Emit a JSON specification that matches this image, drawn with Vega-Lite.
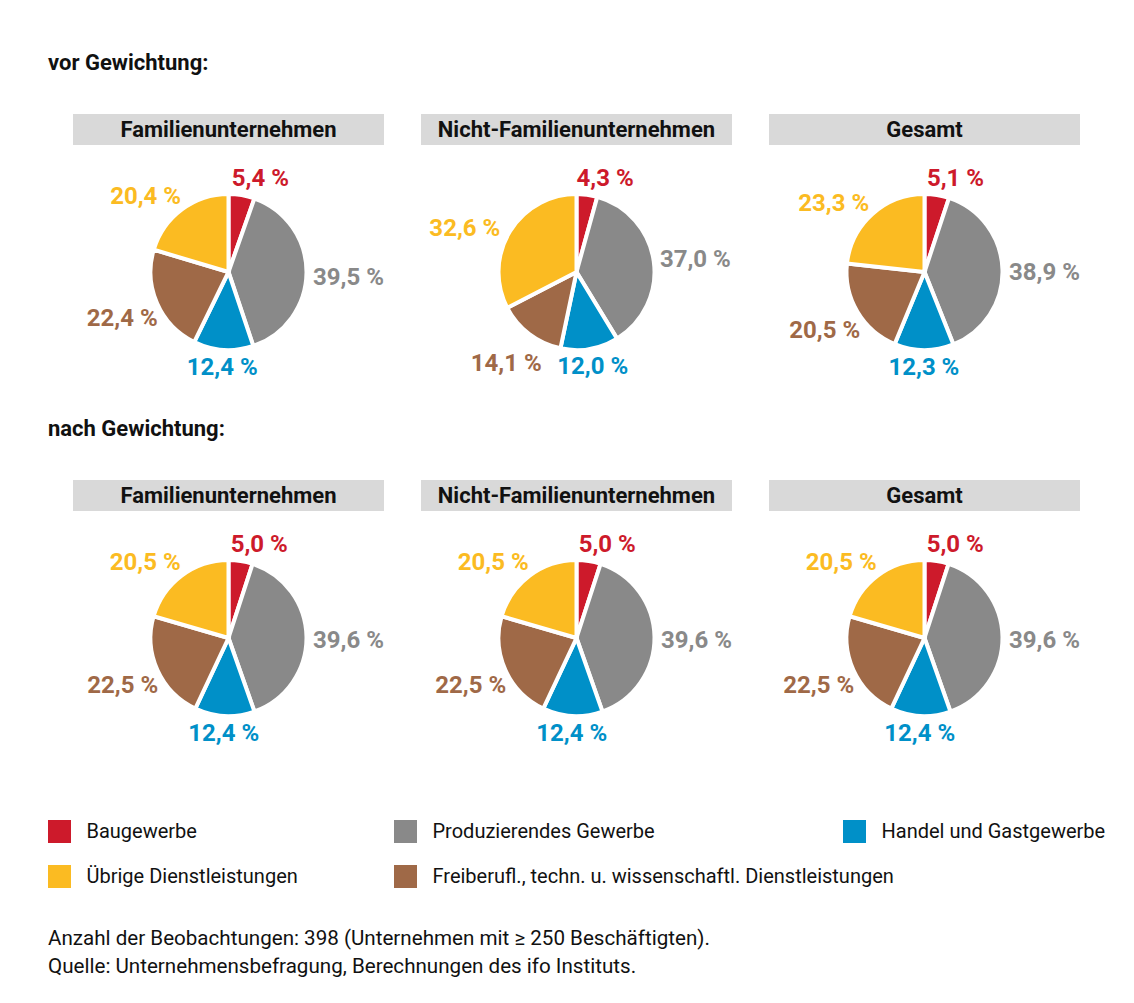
{
 "$schema": "https://vega.github.io/schema/vega-lite/v6.json",
 "padding": {"left": 47, "top": 52, "right": 0, "bottom": 0},
 "config": {
  "view": {"stroke": null},
  "font": "Roboto",
  "locale": {"number": {"decimal": ",", "thousands": ".", "grouping": [3], "currency": ["", " %"]}},
  "title": {"font": "Roboto", "color": "#111111"}
 },
 "datasets": {
  "kategorien": [
   {"Kategorie": "Baugewerbe", "Nr": 1},
   {"Kategorie": "Produzierendes Gewerbe", "Nr": 2},
   {"Kategorie": "Handel und Gastgewerbe", "Nr": 3},
   {"Kategorie": "Freiberufl., techn. u. wissenschaftl. Dienstleistungen", "Nr": 4},
   {"Kategorie": "Übrige Dienstleistungen", "Nr": 5}
  ],
  "anteile": [
   {"Gewichtung": "vor", "Gruppe": "Familienunternehmen", "Nr": 1, "Kategorie": "Baugewerbe", "Anteil": 5.4},
   {"Gewichtung": "vor", "Gruppe": "Familienunternehmen", "Nr": 2, "Kategorie": "Produzierendes Gewerbe", "Anteil": 39.5},
   {"Gewichtung": "vor", "Gruppe": "Familienunternehmen", "Nr": 3, "Kategorie": "Handel und Gastgewerbe", "Anteil": 12.4},
   {"Gewichtung": "vor", "Gruppe": "Familienunternehmen", "Nr": 4, "Kategorie": "Freiberufl., techn. u. wissenschaftl. Dienstleistungen", "Anteil": 22.4},
   {"Gewichtung": "vor", "Gruppe": "Familienunternehmen", "Nr": 5, "Kategorie": "Übrige Dienstleistungen", "Anteil": 20.4},
   {"Gewichtung": "vor", "Gruppe": "Nicht-Familienunternehmen", "Nr": 1, "Kategorie": "Baugewerbe", "Anteil": 4.3},
   {"Gewichtung": "vor", "Gruppe": "Nicht-Familienunternehmen", "Nr": 2, "Kategorie": "Produzierendes Gewerbe", "Anteil": 37.0},
   {"Gewichtung": "vor", "Gruppe": "Nicht-Familienunternehmen", "Nr": 3, "Kategorie": "Handel und Gastgewerbe", "Anteil": 12.0},
   {"Gewichtung": "vor", "Gruppe": "Nicht-Familienunternehmen", "Nr": 4, "Kategorie": "Freiberufl., techn. u. wissenschaftl. Dienstleistungen", "Anteil": 14.1},
   {"Gewichtung": "vor", "Gruppe": "Nicht-Familienunternehmen", "Nr": 5, "Kategorie": "Übrige Dienstleistungen", "Anteil": 32.6},
   {"Gewichtung": "vor", "Gruppe": "Gesamt", "Nr": 1, "Kategorie": "Baugewerbe", "Anteil": 5.1},
   {"Gewichtung": "vor", "Gruppe": "Gesamt", "Nr": 2, "Kategorie": "Produzierendes Gewerbe", "Anteil": 38.9},
   {"Gewichtung": "vor", "Gruppe": "Gesamt", "Nr": 3, "Kategorie": "Handel und Gastgewerbe", "Anteil": 12.3},
   {"Gewichtung": "vor", "Gruppe": "Gesamt", "Nr": 4, "Kategorie": "Freiberufl., techn. u. wissenschaftl. Dienstleistungen", "Anteil": 20.5},
   {"Gewichtung": "vor", "Gruppe": "Gesamt", "Nr": 5, "Kategorie": "Übrige Dienstleistungen", "Anteil": 23.3},
   {"Gewichtung": "nach", "Gruppe": "Familienunternehmen", "Nr": 1, "Kategorie": "Baugewerbe", "Anteil": 5.0},
   {"Gewichtung": "nach", "Gruppe": "Familienunternehmen", "Nr": 2, "Kategorie": "Produzierendes Gewerbe", "Anteil": 39.6},
   {"Gewichtung": "nach", "Gruppe": "Familienunternehmen", "Nr": 3, "Kategorie": "Handel und Gastgewerbe", "Anteil": 12.4},
   {"Gewichtung": "nach", "Gruppe": "Familienunternehmen", "Nr": 4, "Kategorie": "Freiberufl., techn. u. wissenschaftl. Dienstleistungen", "Anteil": 22.5},
   {"Gewichtung": "nach", "Gruppe": "Familienunternehmen", "Nr": 5, "Kategorie": "Übrige Dienstleistungen", "Anteil": 20.5},
   {"Gewichtung": "nach", "Gruppe": "Nicht-Familienunternehmen", "Nr": 1, "Kategorie": "Baugewerbe", "Anteil": 5.0},
   {"Gewichtung": "nach", "Gruppe": "Nicht-Familienunternehmen", "Nr": 2, "Kategorie": "Produzierendes Gewerbe", "Anteil": 39.6},
   {"Gewichtung": "nach", "Gruppe": "Nicht-Familienunternehmen", "Nr": 3, "Kategorie": "Handel und Gastgewerbe", "Anteil": 12.4},
   {"Gewichtung": "nach", "Gruppe": "Nicht-Familienunternehmen", "Nr": 4, "Kategorie": "Freiberufl., techn. u. wissenschaftl. Dienstleistungen", "Anteil": 22.5},
   {"Gewichtung": "nach", "Gruppe": "Nicht-Familienunternehmen", "Nr": 5, "Kategorie": "Übrige Dienstleistungen", "Anteil": 20.5},
   {"Gewichtung": "nach", "Gruppe": "Gesamt", "Nr": 1, "Kategorie": "Baugewerbe", "Anteil": 5.0},
   {"Gewichtung": "nach", "Gruppe": "Gesamt", "Nr": 2, "Kategorie": "Produzierendes Gewerbe", "Anteil": 39.6},
   {"Gewichtung": "nach", "Gruppe": "Gesamt", "Nr": 3, "Kategorie": "Handel und Gastgewerbe", "Anteil": 12.4},
   {"Gewichtung": "nach", "Gruppe": "Gesamt", "Nr": 4, "Kategorie": "Freiberufl., techn. u. wissenschaftl. Dienstleistungen", "Anteil": 22.5},
   {"Gewichtung": "nach", "Gruppe": "Gesamt", "Nr": 5, "Kategorie": "Übrige Dienstleistungen", "Anteil": 20.5}
  ]
 },
 "title": {
  "text": ["Anzahl der Beobachtungen: 398 (Unternehmen mit ≥ 250 Beschäftigten).", "Quelle: Unternehmensbefragung, Berechnungen des ifo Instituts."],
  "orient": "bottom", "anchor": "start", "fontSize": 20.6, "fontWeight": "normal", "lineHeight": 28, "offset": 30
 },
 "spacing": 32,
 "vconcat": [
  {
   "spacing": 7,
   "vconcat": [
    {
     "title": {"text": "vor Gewichtung:", "anchor": "start", "fontSize": 22, "fontWeight": "bold", "offset": 39},
     "spacing": 24,
     "hconcat": [
      {"width": 1, "height": 1, "data": {"name": "kategorien"}, "mark": {"type": "point", "opacity": 0, "size": 0}, "encoding": {}},
      {
       "spacing": 37,
       "hconcat": [
        {"spacing": 0, "vconcat": [
         {"width": 311, "height": 31, "data": {"name": "anteile"},
          "transform": [{"filter": "datum.Gewichtung === 'vor' && datum.Gruppe === 'Familienunternehmen' && datum.Nr === 1"}],
          "layer": [
           {"mark": {"type": "rect", "color": "#d9d9d9"}, "encoding": {}},
           {"mark": {"type": "text", "fontSize": 22, "fontWeight": "bold", "color": "#111111"}, "encoding": {"text": {"field": "Gruppe", "type": "nominal"}}}
          ]},
         {"width": 311, "height": 254, "data": {"name": "anteile"},
          "transform": [{"filter": "datum.Gewichtung === 'vor' && datum.Gruppe === 'Familienunternehmen'"}],
          "encoding": {
           "theta": {"field": "Anteil", "type": "quantitative", "stack": true},
           "order": {"field": "Nr", "type": "quantitative"},
           "color": {"field": "Kategorie", "type": "nominal", "legend": null, "scale": {"domain": ["Baugewerbe", "Produzierendes Gewerbe", "Handel und Gastgewerbe", "Freiberufl., techn. u. wissenschaftl. Dienstleistungen", "Übrige Dienstleistungen"], "range": ["#cd1a2b", "#898989", "#0090c8", "#9f6947", "#fbbb22"]}}
          },
          "layer": [
           {"mark": {"type": "arc", "outerRadius": 78, "stroke": "white", "strokeWidth": 4}},
           {"mark": {"type": "text", "radius": 94, "dx": 16, "fontSize": 24, "fontWeight": "bold"}, "encoding": {"text": {"condition": {"test": "datum.Nr === 1", "field": "Anteil", "type": "quantitative", "format": "$.1f"}, "value": ""}}},
           {"mark": {"type": "text", "radius": 120, "dy": 5, "fontSize": 24, "fontWeight": "bold"}, "encoding": {"text": {"condition": {"test": "datum.Nr === 2", "field": "Anteil", "type": "quantitative", "format": "$.1f"}, "value": ""}}},
           {"mark": {"type": "text", "radius": 96, "fontSize": 24, "fontWeight": "bold"}, "encoding": {"text": {"condition": {"test": "datum.Nr === 3", "field": "Anteil", "type": "quantitative", "format": "$.1f"}, "value": ""}}},
           {"mark": {"type": "text", "radius": 116, "fontSize": 24, "fontWeight": "bold"}, "encoding": {"text": {"condition": {"test": "datum.Nr === 4", "field": "Anteil", "type": "quantitative", "format": "$.1f"}, "value": ""}}},
           {"mark": {"type": "text", "radius": 112, "dx": -16, "dy": 15, "fontSize": 24, "fontWeight": "bold"}, "encoding": {"text": {"condition": {"test": "datum.Nr === 5", "field": "Anteil", "type": "quantitative", "format": "$.1f"}, "value": ""}}}
          ]}
        ]},
        {"spacing": 0, "vconcat": [
         {"width": 311, "height": 31, "data": {"name": "anteile"},
          "transform": [{"filter": "datum.Gewichtung === 'vor' && datum.Gruppe === 'Nicht-Familienunternehmen' && datum.Nr === 1"}],
          "layer": [
           {"mark": {"type": "rect", "color": "#d9d9d9"}, "encoding": {}},
           {"mark": {"type": "text", "fontSize": 22, "fontWeight": "bold", "color": "#111111"}, "encoding": {"text": {"field": "Gruppe", "type": "nominal"}}}
          ]},
         {"width": 311, "height": 254, "data": {"name": "anteile"},
          "transform": [{"filter": "datum.Gewichtung === 'vor' && datum.Gruppe === 'Nicht-Familienunternehmen'"}],
          "encoding": {
           "theta": {"field": "Anteil", "type": "quantitative", "stack": true},
           "order": {"field": "Nr", "type": "quantitative"},
           "color": {"field": "Kategorie", "type": "nominal", "legend": null, "scale": {"domain": ["Baugewerbe", "Produzierendes Gewerbe", "Handel und Gastgewerbe", "Freiberufl., techn. u. wissenschaftl. Dienstleistungen", "Übrige Dienstleistungen"], "range": ["#cd1a2b", "#898989", "#0090c8", "#9f6947", "#fbbb22"]}}
          },
          "layer": [
           {"mark": {"type": "arc", "outerRadius": 78, "stroke": "white", "strokeWidth": 4}},
           {"mark": {"type": "text", "radius": 94, "dx": 16, "fontSize": 24, "fontWeight": "bold"}, "encoding": {"text": {"condition": {"test": "datum.Nr === 1", "field": "Anteil", "type": "quantitative", "format": "$.1f"}, "value": ""}}},
           {"mark": {"type": "text", "radius": 120, "dy": 5, "fontSize": 24, "fontWeight": "bold"}, "encoding": {"text": {"condition": {"test": "datum.Nr === 2", "field": "Anteil", "type": "quantitative", "format": "$.1f"}, "value": ""}}},
           {"mark": {"type": "text", "radius": 96, "fontSize": 24, "fontWeight": "bold"}, "encoding": {"text": {"condition": {"test": "datum.Nr === 3", "field": "Anteil", "type": "quantitative", "format": "$.1f"}, "value": ""}}},
           {"mark": {"type": "text", "radius": 116, "fontSize": 24, "fontWeight": "bold"}, "encoding": {"text": {"condition": {"test": "datum.Nr === 4", "field": "Anteil", "type": "quantitative", "format": "$.1f"}, "value": ""}}},
           {"mark": {"type": "text", "radius": 112, "dx": -16, "dy": 15, "fontSize": 24, "fontWeight": "bold"}, "encoding": {"text": {"condition": {"test": "datum.Nr === 5", "field": "Anteil", "type": "quantitative", "format": "$.1f"}, "value": ""}}}
          ]}
        ]},
        {"spacing": 0, "vconcat": [
         {"width": 311, "height": 31, "data": {"name": "anteile"},
          "transform": [{"filter": "datum.Gewichtung === 'vor' && datum.Gruppe === 'Gesamt' && datum.Nr === 1"}],
          "layer": [
           {"mark": {"type": "rect", "color": "#d9d9d9"}, "encoding": {}},
           {"mark": {"type": "text", "fontSize": 22, "fontWeight": "bold", "color": "#111111"}, "encoding": {"text": {"field": "Gruppe", "type": "nominal"}}}
          ]},
         {"width": 311, "height": 254, "data": {"name": "anteile"},
          "transform": [{"filter": "datum.Gewichtung === 'vor' && datum.Gruppe === 'Gesamt'"}],
          "encoding": {
           "theta": {"field": "Anteil", "type": "quantitative", "stack": true},
           "order": {"field": "Nr", "type": "quantitative"},
           "color": {"field": "Kategorie", "type": "nominal", "legend": null, "scale": {"domain": ["Baugewerbe", "Produzierendes Gewerbe", "Handel und Gastgewerbe", "Freiberufl., techn. u. wissenschaftl. Dienstleistungen", "Übrige Dienstleistungen"], "range": ["#cd1a2b", "#898989", "#0090c8", "#9f6947", "#fbbb22"]}}
          },
          "layer": [
           {"mark": {"type": "arc", "outerRadius": 78, "stroke": "white", "strokeWidth": 4}},
           {"mark": {"type": "text", "radius": 94, "dx": 16, "fontSize": 24, "fontWeight": "bold"}, "encoding": {"text": {"condition": {"test": "datum.Nr === 1", "field": "Anteil", "type": "quantitative", "format": "$.1f"}, "value": ""}}},
           {"mark": {"type": "text", "radius": 120, "dy": 5, "fontSize": 24, "fontWeight": "bold"}, "encoding": {"text": {"condition": {"test": "datum.Nr === 2", "field": "Anteil", "type": "quantitative", "format": "$.1f"}, "value": ""}}},
           {"mark": {"type": "text", "radius": 96, "fontSize": 24, "fontWeight": "bold"}, "encoding": {"text": {"condition": {"test": "datum.Nr === 3", "field": "Anteil", "type": "quantitative", "format": "$.1f"}, "value": ""}}},
           {"mark": {"type": "text", "radius": 116, "fontSize": 24, "fontWeight": "bold"}, "encoding": {"text": {"condition": {"test": "datum.Nr === 4", "field": "Anteil", "type": "quantitative", "format": "$.1f"}, "value": ""}}},
           {"mark": {"type": "text", "radius": 112, "dx": -16, "dy": 15, "fontSize": 24, "fontWeight": "bold"}, "encoding": {"text": {"condition": {"test": "datum.Nr === 5", "field": "Anteil", "type": "quantitative", "format": "$.1f"}, "value": ""}}}
          ]}
        ]}
       ]
      }
     ]
    },
    {
     "title": {"text": "nach Gewichtung:", "anchor": "start", "fontSize": 22, "fontWeight": "bold", "offset": 39},
     "spacing": 24,
     "hconcat": [
      {"width": 1, "height": 1, "data": {"name": "kategorien"}, "mark": {"type": "point", "opacity": 0, "size": 0}, "encoding": {}},
      {
       "spacing": 37,
       "hconcat": [
        {"spacing": 0, "vconcat": [
         {"width": 311, "height": 31, "data": {"name": "anteile"},
          "transform": [{"filter": "datum.Gewichtung === 'nach' && datum.Gruppe === 'Familienunternehmen' && datum.Nr === 1"}],
          "layer": [
           {"mark": {"type": "rect", "color": "#d9d9d9"}, "encoding": {}},
           {"mark": {"type": "text", "fontSize": 22, "fontWeight": "bold", "color": "#111111"}, "encoding": {"text": {"field": "Gruppe", "type": "nominal"}}}
          ]},
         {"width": 311, "height": 254, "data": {"name": "anteile"},
          "transform": [{"filter": "datum.Gewichtung === 'nach' && datum.Gruppe === 'Familienunternehmen'"}],
          "encoding": {
           "theta": {"field": "Anteil", "type": "quantitative", "stack": true},
           "order": {"field": "Nr", "type": "quantitative"},
           "color": {"field": "Kategorie", "type": "nominal", "legend": null, "scale": {"domain": ["Baugewerbe", "Produzierendes Gewerbe", "Handel und Gastgewerbe", "Freiberufl., techn. u. wissenschaftl. Dienstleistungen", "Übrige Dienstleistungen"], "range": ["#cd1a2b", "#898989", "#0090c8", "#9f6947", "#fbbb22"]}}
          },
          "layer": [
           {"mark": {"type": "arc", "outerRadius": 78, "stroke": "white", "strokeWidth": 4}},
           {"mark": {"type": "text", "radius": 94, "dx": 16, "fontSize": 24, "fontWeight": "bold"}, "encoding": {"text": {"condition": {"test": "datum.Nr === 1", "field": "Anteil", "type": "quantitative", "format": "$.1f"}, "value": ""}}},
           {"mark": {"type": "text", "radius": 120, "dy": 5, "fontSize": 24, "fontWeight": "bold"}, "encoding": {"text": {"condition": {"test": "datum.Nr === 2", "field": "Anteil", "type": "quantitative", "format": "$.1f"}, "value": ""}}},
           {"mark": {"type": "text", "radius": 96, "fontSize": 24, "fontWeight": "bold"}, "encoding": {"text": {"condition": {"test": "datum.Nr === 3", "field": "Anteil", "type": "quantitative", "format": "$.1f"}, "value": ""}}},
           {"mark": {"type": "text", "radius": 116, "fontSize": 24, "fontWeight": "bold"}, "encoding": {"text": {"condition": {"test": "datum.Nr === 4", "field": "Anteil", "type": "quantitative", "format": "$.1f"}, "value": ""}}},
           {"mark": {"type": "text", "radius": 112, "dx": -16, "dy": 15, "fontSize": 24, "fontWeight": "bold"}, "encoding": {"text": {"condition": {"test": "datum.Nr === 5", "field": "Anteil", "type": "quantitative", "format": "$.1f"}, "value": ""}}}
          ]}
        ]},
        {"spacing": 0, "vconcat": [
         {"width": 311, "height": 31, "data": {"name": "anteile"},
          "transform": [{"filter": "datum.Gewichtung === 'nach' && datum.Gruppe === 'Nicht-Familienunternehmen' && datum.Nr === 1"}],
          "layer": [
           {"mark": {"type": "rect", "color": "#d9d9d9"}, "encoding": {}},
           {"mark": {"type": "text", "fontSize": 22, "fontWeight": "bold", "color": "#111111"}, "encoding": {"text": {"field": "Gruppe", "type": "nominal"}}}
          ]},
         {"width": 311, "height": 254, "data": {"name": "anteile"},
          "transform": [{"filter": "datum.Gewichtung === 'nach' && datum.Gruppe === 'Nicht-Familienunternehmen'"}],
          "encoding": {
           "theta": {"field": "Anteil", "type": "quantitative", "stack": true},
           "order": {"field": "Nr", "type": "quantitative"},
           "color": {"field": "Kategorie", "type": "nominal", "legend": null, "scale": {"domain": ["Baugewerbe", "Produzierendes Gewerbe", "Handel und Gastgewerbe", "Freiberufl., techn. u. wissenschaftl. Dienstleistungen", "Übrige Dienstleistungen"], "range": ["#cd1a2b", "#898989", "#0090c8", "#9f6947", "#fbbb22"]}}
          },
          "layer": [
           {"mark": {"type": "arc", "outerRadius": 78, "stroke": "white", "strokeWidth": 4}},
           {"mark": {"type": "text", "radius": 94, "dx": 16, "fontSize": 24, "fontWeight": "bold"}, "encoding": {"text": {"condition": {"test": "datum.Nr === 1", "field": "Anteil", "type": "quantitative", "format": "$.1f"}, "value": ""}}},
           {"mark": {"type": "text", "radius": 120, "dy": 5, "fontSize": 24, "fontWeight": "bold"}, "encoding": {"text": {"condition": {"test": "datum.Nr === 2", "field": "Anteil", "type": "quantitative", "format": "$.1f"}, "value": ""}}},
           {"mark": {"type": "text", "radius": 96, "fontSize": 24, "fontWeight": "bold"}, "encoding": {"text": {"condition": {"test": "datum.Nr === 3", "field": "Anteil", "type": "quantitative", "format": "$.1f"}, "value": ""}}},
           {"mark": {"type": "text", "radius": 116, "fontSize": 24, "fontWeight": "bold"}, "encoding": {"text": {"condition": {"test": "datum.Nr === 4", "field": "Anteil", "type": "quantitative", "format": "$.1f"}, "value": ""}}},
           {"mark": {"type": "text", "radius": 112, "dx": -16, "dy": 15, "fontSize": 24, "fontWeight": "bold"}, "encoding": {"text": {"condition": {"test": "datum.Nr === 5", "field": "Anteil", "type": "quantitative", "format": "$.1f"}, "value": ""}}}
          ]}
        ]},
        {"spacing": 0, "vconcat": [
         {"width": 311, "height": 31, "data": {"name": "anteile"},
          "transform": [{"filter": "datum.Gewichtung === 'nach' && datum.Gruppe === 'Gesamt' && datum.Nr === 1"}],
          "layer": [
           {"mark": {"type": "rect", "color": "#d9d9d9"}, "encoding": {}},
           {"mark": {"type": "text", "fontSize": 22, "fontWeight": "bold", "color": "#111111"}, "encoding": {"text": {"field": "Gruppe", "type": "nominal"}}}
          ]},
         {"width": 311, "height": 254, "data": {"name": "anteile"},
          "transform": [{"filter": "datum.Gewichtung === 'nach' && datum.Gruppe === 'Gesamt'"}],
          "encoding": {
           "theta": {"field": "Anteil", "type": "quantitative", "stack": true},
           "order": {"field": "Nr", "type": "quantitative"},
           "color": {"field": "Kategorie", "type": "nominal", "legend": null, "scale": {"domain": ["Baugewerbe", "Produzierendes Gewerbe", "Handel und Gastgewerbe", "Freiberufl., techn. u. wissenschaftl. Dienstleistungen", "Übrige Dienstleistungen"], "range": ["#cd1a2b", "#898989", "#0090c8", "#9f6947", "#fbbb22"]}}
          },
          "layer": [
           {"mark": {"type": "arc", "outerRadius": 78, "stroke": "white", "strokeWidth": 4}},
           {"mark": {"type": "text", "radius": 94, "dx": 16, "fontSize": 24, "fontWeight": "bold"}, "encoding": {"text": {"condition": {"test": "datum.Nr === 1", "field": "Anteil", "type": "quantitative", "format": "$.1f"}, "value": ""}}},
           {"mark": {"type": "text", "radius": 120, "dy": 5, "fontSize": 24, "fontWeight": "bold"}, "encoding": {"text": {"condition": {"test": "datum.Nr === 2", "field": "Anteil", "type": "quantitative", "format": "$.1f"}, "value": ""}}},
           {"mark": {"type": "text", "radius": 96, "fontSize": 24, "fontWeight": "bold"}, "encoding": {"text": {"condition": {"test": "datum.Nr === 3", "field": "Anteil", "type": "quantitative", "format": "$.1f"}, "value": ""}}},
           {"mark": {"type": "text", "radius": 116, "fontSize": 24, "fontWeight": "bold"}, "encoding": {"text": {"condition": {"test": "datum.Nr === 4", "field": "Anteil", "type": "quantitative", "format": "$.1f"}, "value": ""}}},
           {"mark": {"type": "text", "radius": 112, "dx": -16, "dy": 15, "fontSize": 24, "fontWeight": "bold"}, "encoding": {"text": {"condition": {"test": "datum.Nr === 5", "field": "Anteil", "type": "quantitative", "format": "$.1f"}, "value": ""}}}
          ]}
        ]}
       ]
      }
     ]
    }
   ]
  },
  {
   "bounds": "flush",
   "spacing": 0,
   "hconcat": [
    {"width": 346, "height": 90, "data": {"name": "kategorien"},
     "transform": [{"filter": "datum.Nr === 1 || datum.Nr === 5"}],
     "encoding": {
      "x": {"datum": 0, "type": "quantitative", "scale": {"domain": [0, 1], "padding": 11.5, "nice": false, "zero": false}, "axis": null},
      "y": {"field": "Nr", "type": "ordinal", "axis": null},
      "color": {"field": "Kategorie", "type": "nominal", "legend": null, "scale": {"domain": ["Baugewerbe", "Produzierendes Gewerbe", "Handel und Gastgewerbe", "Freiberufl., techn. u. wissenschaftl. Dienstleistungen", "Übrige Dienstleistungen"], "range": ["#cd1a2b", "#898989", "#0090c8", "#9f6947", "#fbbb22"]}}
     },
     "layer": [
      {"mark": {"type": "square", "size": 529, "opacity": 1, "strokeWidth": 0}},
      {"mark": {"type": "text", "align": "left", "dx": 27, "fontSize": 20}, "encoding": {"text": {"field": "Kategorie", "type": "nominal"}, "color": {"value": "#111111"}}}
     ]},
    {"width": 449, "height": 90, "data": {"name": "kategorien"},
     "transform": [{"filter": "datum.Nr === 2 || datum.Nr === 4"}],
     "encoding": {
      "x": {"datum": 0, "type": "quantitative", "scale": {"domain": [0, 1], "padding": 11.5, "nice": false, "zero": false}, "axis": null},
      "y": {"field": "Nr", "type": "ordinal", "axis": null},
      "color": {"field": "Kategorie", "type": "nominal", "legend": null, "scale": {"domain": ["Baugewerbe", "Produzierendes Gewerbe", "Handel und Gastgewerbe", "Freiberufl., techn. u. wissenschaftl. Dienstleistungen", "Übrige Dienstleistungen"], "range": ["#cd1a2b", "#898989", "#0090c8", "#9f6947", "#fbbb22"]}}
     },
     "layer": [
      {"mark": {"type": "square", "size": 529, "opacity": 1, "strokeWidth": 0}},
      {"mark": {"type": "text", "align": "left", "dx": 27, "fontSize": 20}, "encoding": {"text": {"field": "Kategorie", "type": "nominal"}, "color": {"value": "#111111"}}}
     ]},
    {"width": 240, "height": 45, "data": {"name": "kategorien"},
     "transform": [{"filter": "datum.Nr === 3"}],
     "encoding": {
      "x": {"datum": 0, "type": "quantitative", "scale": {"domain": [0, 1], "padding": 11.5, "nice": false, "zero": false}, "axis": null},
      "y": {"field": "Nr", "type": "ordinal", "axis": null},
      "color": {"field": "Kategorie", "type": "nominal", "legend": null, "scale": {"domain": ["Baugewerbe", "Produzierendes Gewerbe", "Handel und Gastgewerbe", "Freiberufl., techn. u. wissenschaftl. Dienstleistungen", "Übrige Dienstleistungen"], "range": ["#cd1a2b", "#898989", "#0090c8", "#9f6947", "#fbbb22"]}}
     },
     "layer": [
      {"mark": {"type": "square", "size": 529, "opacity": 1, "strokeWidth": 0}},
      {"mark": {"type": "text", "align": "left", "dx": 27, "fontSize": 20}, "encoding": {"text": {"field": "Kategorie", "type": "nominal"}, "color": {"value": "#111111"}}}
     ]}
   ]
  }
 ]
}
